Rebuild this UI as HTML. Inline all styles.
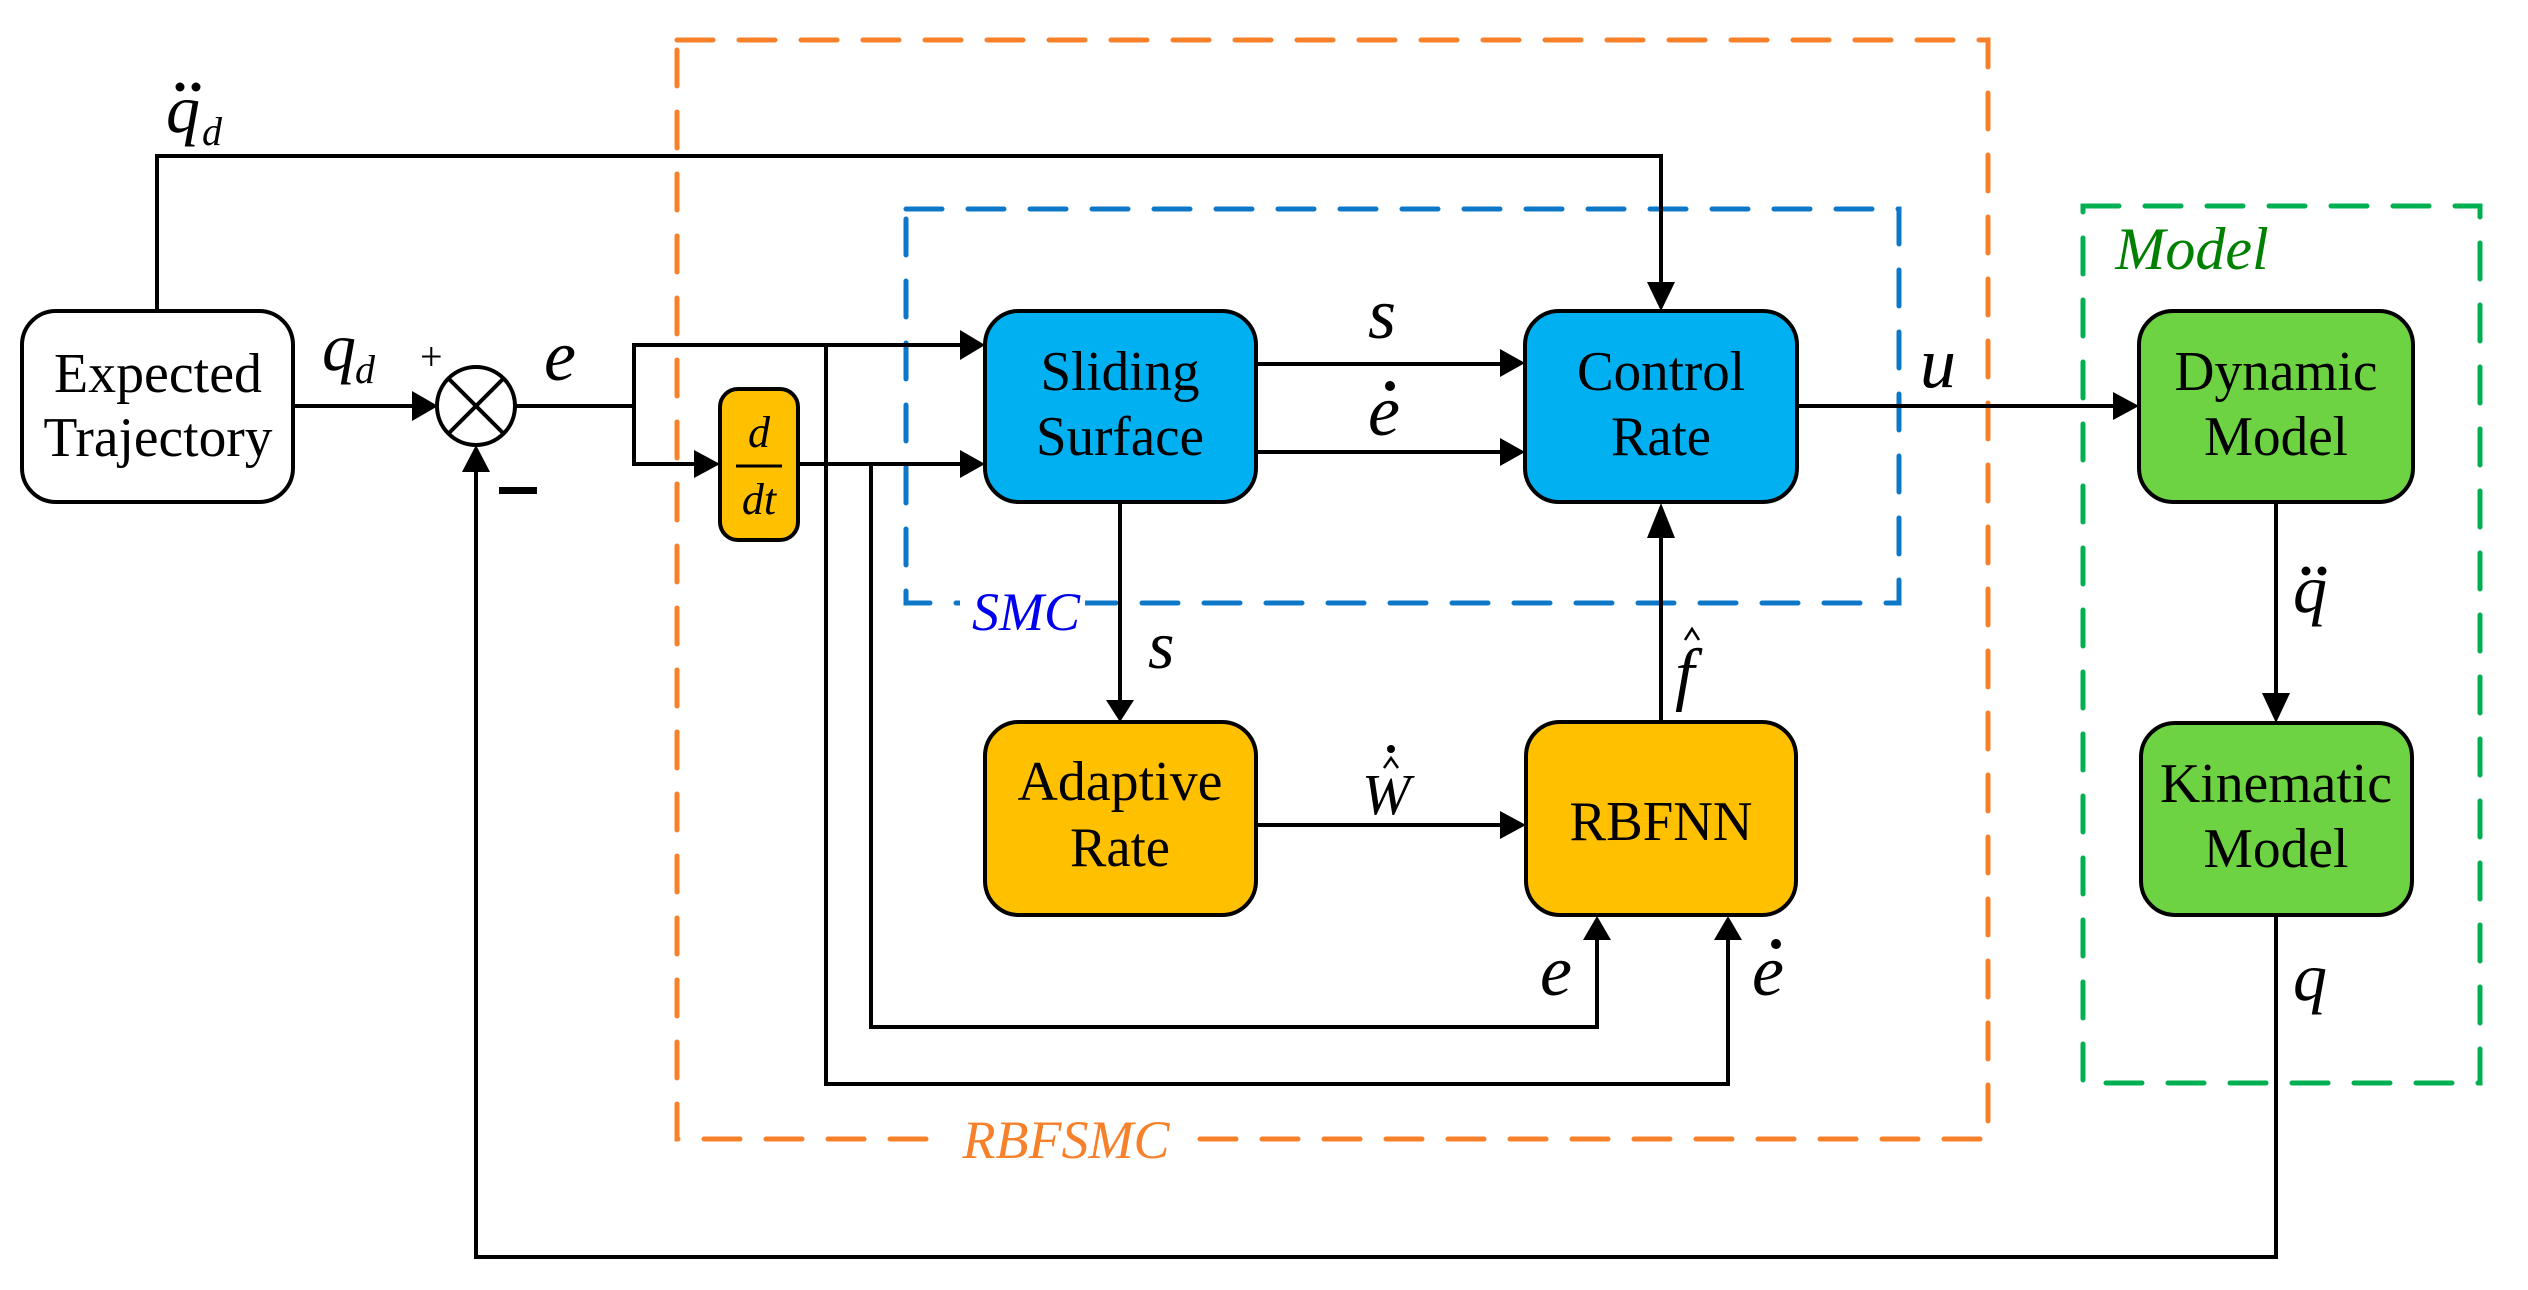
<!DOCTYPE html>
<html><head><meta charset="utf-8"><style>body{margin:0;background:#fff}svg{display:block}text{font-family:"Liberation Serif",serif}</style></head>
<body>
<svg width="2528" height="1290" viewBox="0 0 2528 1290" xmlns="http://www.w3.org/2000/svg">
<g fill="none" stroke-width="5" stroke-dasharray="36,26" stroke-linecap="round">
<rect x="677" y="40" width="1311" height="1099" stroke="#f7812a"/>
<rect x="906" y="209" width="993" height="394" stroke="#0d78c8"/>
<rect x="2083" y="206" width="397" height="877" stroke="#00b050"/>
</g>
<rect x="960" y="585" width="125" height="40" fill="#fff"/>
<rect x="945" y="1120" width="240" height="40" fill="#fff"/>
<text x="1026" y="630" font-size="54" font-style="italic" fill="#0000ee" text-anchor="middle">SMC</text>
<text x="1066" y="1158" font-size="54" font-style="italic" fill="#f7812a" text-anchor="middle">RBFSMC</text>
<text x="2192" y="269" font-size="60" font-style="italic" fill="#008000" text-anchor="middle">Model</text>

<g stroke="#000" stroke-width="4" fill="none">
<path d="M157,311 V156 H1661 V285"/>
<line x1="293" y1="406" x2="420" y2="406"/>
<line x1="515" y1="406" x2="634" y2="406"/>
<path d="M634,406 V345 H960"/>
<path d="M634,406 V464 H700"/>
<path d="M798,464 H960"/>
<path d="M826,345 V1084 H1728 V930"/>
<path d="M871,464 V1027 H1597 V930"/>
<path d="M1256,364 H1500"/>
<path d="M1256,452 H1500"/>
<path d="M1797,406 H2115"/>
<path d="M1120,502 V700"/>
<path d="M1256,825 H1500"/>
<path d="M1661,722 V530"/>
<path d="M2276,502 V695"/>
<path d="M2276,915 V1257 H476 V470"/>
</g>
<g fill="#000">
<polygon points="412,391 438,406 412,421"/>
<polygon points="462,472 476,445 490,472"/>
<polygon points="694,450 720,464 694,478"/>
<polygon points="960,330 985,345 960,360"/>
<polygon points="960,450 985,464 960,478"/>
<polygon points="1500,349 1525,363 1500,377"/>
<polygon points="1500,438 1525,452 1500,466"/>
<polygon points="2113,392 2139,406 2113,420"/>
<polygon points="1106,700 1120,722 1134,700"/>
<polygon points="1500,811 1526,825 1500,839"/>
<polygon points="1647,538 1661,503 1675,538"/>
<polygon points="2262,693 2276,723 2290,693"/>
<polygon points="1647,282 1661,311 1675,282"/>
<polygon points="1583,940 1597,916 1611,940"/>
<polygon points="1714,940 1728,916 1742,940"/>
<rect x="499" y="487" width="38" height="7"/>
</g>
<circle cx="476" cy="406" r="39" fill="#fff" stroke="#000" stroke-width="4"/>
<line x1="449" y1="379" x2="503" y2="433" stroke="#000" stroke-width="4"/>
<line x1="503" y1="379" x2="449" y2="433" stroke="#000" stroke-width="4"/>

<g stroke="#000" stroke-width="4">
<rect x="22" y="311" width="271" height="191" rx="34" fill="#fff"/>
<rect x="720" y="389" width="78" height="151" rx="18" fill="#ffc000"/>
<rect x="985" y="311" width="271" height="191" rx="34" fill="#00b0f0"/>
<rect x="1525" y="311" width="272" height="191" rx="34" fill="#00b0f0"/>
<rect x="985" y="722" width="271" height="193" rx="34" fill="#ffc000"/>
<rect x="1526" y="722" width="270" height="193" rx="34" fill="#ffc000"/>
<rect x="2139" y="311" width="274" height="191" rx="34" fill="#6dd343"/>
<rect x="2141" y="723" width="271" height="192" rx="34" fill="#6dd343"/>
</g>
<line x1="736" y1="466" x2="782" y2="466" stroke="#000" stroke-width="3"/>
<text x="759" y="447" font-size="44" font-style="italic" text-anchor="middle">d</text>
<text x="759" y="514" font-size="44" font-style="italic" text-anchor="middle">dt</text>

<g font-size="56" text-anchor="middle">
<text x="158" y="392" textLength="208" lengthAdjust="spacingAndGlyphs">Expected</text>
<text x="158" y="456" textLength="229" lengthAdjust="spacingAndGlyphs">Trajectory</text>
<text x="1120" y="390" textLength="159" lengthAdjust="spacingAndGlyphs">Sliding</text>
<text x="1120" y="455" textLength="168" lengthAdjust="spacingAndGlyphs">Surface</text>
<text x="1661" y="390" textLength="168" lengthAdjust="spacingAndGlyphs">Control</text>
<text x="1661" y="455" textLength="100" lengthAdjust="spacingAndGlyphs">Rate</text>
<text x="1120" y="800" textLength="205" lengthAdjust="spacingAndGlyphs">Adaptive</text>
<text x="1120" y="866" textLength="100" lengthAdjust="spacingAndGlyphs">Rate</text>
<text x="1661" y="840" textLength="183" lengthAdjust="spacingAndGlyphs">RBFNN</text>
<text x="2276" y="390" textLength="203" lengthAdjust="spacingAndGlyphs">Dynamic</text>
<text x="2276" y="455" textLength="144" lengthAdjust="spacingAndGlyphs">Model</text>
<text x="2276" y="802" textLength="232" lengthAdjust="spacingAndGlyphs">Kinematic</text>
<text x="2276" y="867" textLength="145" lengthAdjust="spacingAndGlyphs">Model</text>
</g>
<g font-style="italic" font-size="68">
<text x="166" y="132">q</text><text x="202" y="145" font-size="40">d</text>
<text x="322" y="370">q</text><text x="355" y="383" font-size="40">d</text>
<text x="420" y="370" font-size="40" font-style="normal">+</text>
<text x="544" y="380" font-size="72">e</text>
<text x="1368" y="338" font-size="72">s</text>
<text x="1368" y="435" font-size="72">e</text>
<text x="1920" y="387" font-size="72">u</text>
<text x="1148" y="668">s</text>
<text x="1362" y="814" font-size="58">W</text>
<text x="1675" y="697" font-size="70">f</text>
<text x="1540" y="995" font-size="72">e</text>
<text x="1752" y="995" font-size="72">e</text>
<text x="2293" y="612">q</text>
<text x="2293" y="1000">q</text>
</g>
<g fill="#000">
<circle cx="180" cy="87" r="4.5"/><circle cx="196" cy="87" r="4.5"/>
<circle cx="1390" cy="386" r="5"/>
<circle cx="1776" cy="944" r="5"/>
<circle cx="1391" cy="749" r="4"/>
<circle cx="2306" cy="571" r="4.5"/><circle cx="2322" cy="571" r="4.5"/>
</g>
<g fill="none" stroke="#000" stroke-width="2.5">
<path d="M1384,768 L1391,758 L1398,768"/>
<path d="M1685,640 L1692,629 L1699,640"/>
</g>
</svg>
</body></html>
